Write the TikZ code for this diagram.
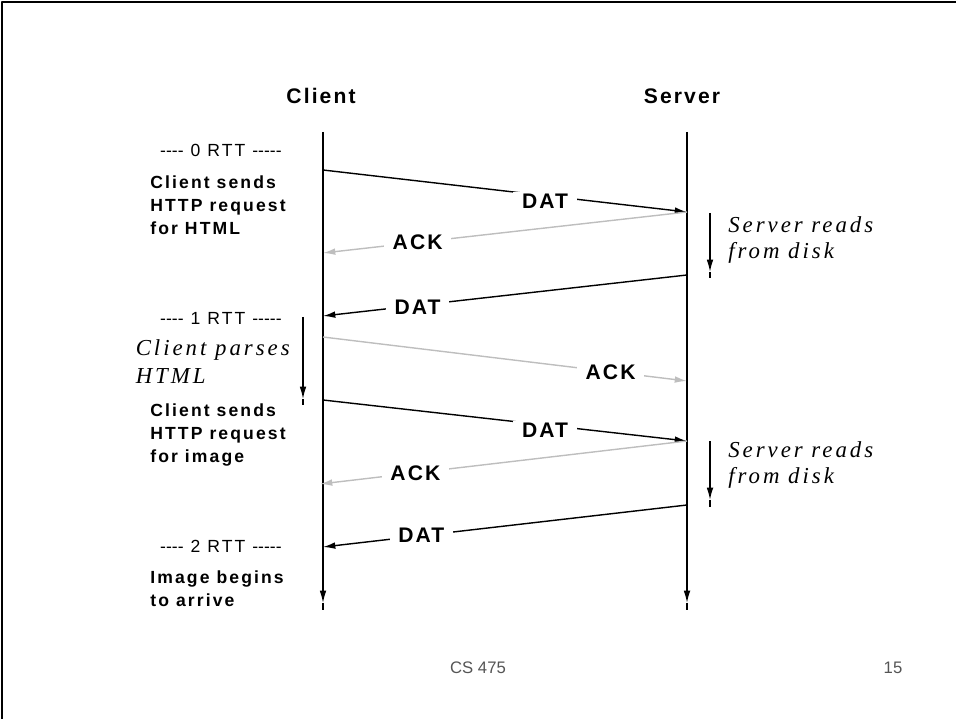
\documentclass[tikz,border=0pt]{standalone}
\usepackage{fontspec}
\usetikzlibrary{arrows.meta}
\setmainfont{Liberation Sans}
\newfontfamily\lblfont[LetterSpace=12]{Liberation Sans}
\newfontfamily\titlefont[LetterSpace=10]{Liberation Sans}
\newfontfamily\notefont[LetterSpace=13]{Liberation Serif}
\definecolor{ackgray}{RGB}{190,190,190}
\definecolor{footgray}{RGB}{85,85,85}
\newcommand\rdash{-\kern0pt}
\begin{document}
\begin{tikzpicture}[x=0.02cm,y=-0.02cm,line join=round,>={Latex[length=7pt,width=3.8pt]},
	line/.style={line width=0.8pt},
	ackline/.style={line width=0.8pt,draw=ackgray,fill=ackgray},
	msg/.style={fill=white,inner xsep=5pt,inner ysep=1pt,font=\titlefont\bfseries\fontsize{12}{14}\selectfont},
	title/.style={font=\titlefont\bfseries\fontsize{12}{14}\selectfont},
	side/.style={anchor=north west,align=left,inner sep=0pt,font=\lblfont\bfseries\fontsize{10}{13.1}\selectfont},
	rtt/.style={anchor=east,inner sep=0pt,font=\lblfont\fontsize{10}{12}\selectfont},
	note/.style={align=left,inner sep=0pt,font=\notefont\itshape\fontsize{13}{14.8}\selectfont},
	foot/.style={text=footgray,font=\fontsize{9.5}{11}\selectfont}]
	\useasboundingbox (0,0) rectangle (956,719);
	% slide frame
	\draw[line width=1.1pt] (2,719) -- (2,2) -- (956,2);
	\node[title] (client) at (321,96) {Client};
	\node[title] (server) at (682,96) {Server};
	% lifelines
	\coordinate (ctop) at (323,132); \coordinate (ctip) at (323,603); \coordinate (cend) at (323,610);
	\coordinate (stop) at (687,132); \coordinate (stip) at (687,603); \coordinate (send) at (687,610);
	\draw[line,->] (ctop) -- (ctip); \draw[line] (ctip) -- (cend);
	\draw[line,->] (stop) -- (stip); \draw[line] (stip) -- (send);
	% message ends
	\coordinate (c1) at (323,170); \coordinate (s1) at (687,212);
	\coordinate (c2) at (323,253); \coordinate (s2) at (687,275);
	\coordinate (c3) at (323,316); \coordinate (c4) at (323,337);
	\coordinate (s4) at (687,381); \coordinate (c5) at (323,400);
	\coordinate (s5) at (687,441); \coordinate (c6) at (320,484);
	\coordinate (s6) at (687,505); \coordinate (c7) at (323,547);
	\draw[line,->] (c1) -- node[msg,pos=.61,yshift=-3pt] (dat1) {DAT} (s1);
	\draw[ackline,->] (s1) -- node[msg,pos=.74] (ack1) {ACK} (c2);
	\draw[line,->] (s2) -- node[msg,pos=.74,yshift=-1pt] (dat2) {DAT} (c3);
	\draw[ackline,->] (c4) -- node[msg,pos=.79] (ack2) {ACK} (s4);
	\draw[line,->] (c5) -- node[msg,pos=.61,yshift=-3pt] (dat3) {DAT} (s5);
	\draw[ackline,->] (s5) -- node[msg,pos=.74] (ack3) {ACK} (c6);
	\draw[line,->] (s6) -- node[msg,pos=.73] (dat4) {DAT} (c7);
	% processing delays
	\coordinate (rd1a) at (710,213); \coordinate (rd1b) at (710,272); \coordinate (rd1c) at (710,278);
	\coordinate (rd2a) at (710,441); \coordinate (rd2b) at (710,500); \coordinate (rd2c) at (710,507);
	\coordinate (pa) at (303,317); \coordinate (pb) at (303,399); \coordinate (pc) at (303,405);
	\draw[line,->] (rd1a) -- (rd1b); \draw[line] (rd1b) -- (rd1c);
	\draw[line,->] (rd2a) -- (rd2b); \draw[line] (rd2b) -- (rd2c);
	\draw[line,->] (pa) -- (pb); \draw[line] (pb) -- (pc);
	\node[note,anchor=north west] (read1) at (728,216) {Server reads\\from disk};
	\node[note,anchor=north west] (read2) at (728,441) {Server reads\\from disk};
	\node[note,anchor=north east,font=\notefont\itshape\fontsize{13}{15.9}\selectfont] (parse) at (290,339) {Client parses\\HTML};
	% left column
	\node[rtt] (rtt0) at (282,150) {\rdash\rdash\rdash\rdash\ 0 RTT \rdash\rdash\rdash\rdash\rdash};
	\node[side] (req1) at (150,175) {Client sends\\HTTP request\\for HTML};
	\node[rtt] (rtt1) at (282,318) {\rdash\rdash\rdash\rdash\ 1 RTT \rdash\rdash\rdash\rdash\rdash};
	\node[side] (req2) at (150,403) {Client sends\\HTTP request\\for image};
	\node[rtt] (rtt2) at (282,546) {\rdash\rdash\rdash\rdash\ 2 RTT \rdash\rdash\rdash\rdash\rdash};
	\node[side] (arr) at (150,570) {Image begins\\to arrive};
	\node[foot] (course) at (478,668) {CS 475};
	\node[foot] (page) at (893,668) {15};
\end{tikzpicture}
\end{document}
